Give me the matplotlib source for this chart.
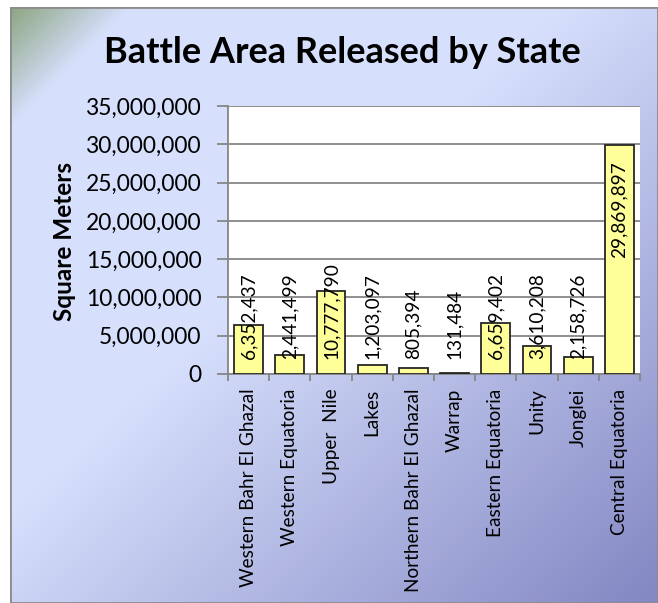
import numpy as np
import matplotlib
matplotlib.use("Agg")
import matplotlib.pyplot as plt
from matplotlib.patches import Rectangle
from matplotlib.ticker import FuncFormatter, MultipleLocator

states = ["Western Bahr El Ghazal", "Western Equatoria", "Upper  Nile", "Lakes",
          "Northern Bahr El Ghazal", "Warrap", "Eastern Equatoria", "Unity",
          "Jonglei", "Central Equatoria"]
areas = [6352437, 2441499, 10777790, 1203097, 805394, 131484,
         6659402, 3610208, 2158726, 29869897]
title = "Battle Area Released by State"
ylabel = "Square Meters"

W, H = 658, 603
fig = plt.figure(figsize=(W / 100, H / 100), dpi=100)
plt.rcParams['font.family'] = ['Lato', 'DejaVu Sans']

# background gradient panel
bg = fig.add_axes([10 / W, 0, (W - 10) / W, 1 - 7 / H], zorder=-5)
bw, bh = W - 10, H - 7
xx, yy = np.meshgrid(np.arange(bw), np.arange(bh))
t = np.clip((xx / bw + yy / bh - 0.85) / 1.15, 0, 1)[..., None]
light = np.array([214, 223, 252]) / 255
dark = np.array([130, 134, 194]) / 255
img = light * (1 - t) + dark * t
g = np.clip(1 - (xx + yy) / 120, 0, 1)[..., None]
green = np.array([140, 165, 128]) / 255
img = img * (1 - g) + green * g
bg.imshow(img, aspect="auto", extent=[0, bw, bh, 0])
bg.add_patch(Rectangle((0, 0), bw, bh, fill=False, edgecolor="#8c8c8c", lw=2))
bg.set_xlim(0, bw)
bg.set_ylim(bh, 0)
bg.axis("off")

ax = fig.add_axes([228 / W, 1 - 374 / H, 412 / W, 268 / H])
ax.set_facecolor("white")
x = np.arange(len(states))
ax.bar(x, areas, width=0.7, color="#ffff99", edgecolor="#262626", linewidth=1.3, zorder=3)
ax.set_xlim(-0.5, len(states) - 0.5)
ax.set_ylim(0, 35000000)
ax.yaxis.set_major_locator(MultipleLocator(5000000))
ax.yaxis.set_major_formatter(FuncFormatter(lambda v, p: f"{int(v):,}"))
ax.grid(axis="y", color="#868686", lw=1.3, zorder=0)
for s in ["top", "right"]:
    ax.spines[s].set_visible(False)
for s in ["left", "bottom"]:
    ax.spines[s].set_color("#868686")
    ax.spines[s].set_linewidth(1.3)

ax.tick_params(axis="y", length=8, width=1.3, color="#868686", pad=11,
               labelsize=16.4)
ax.set_xticks(x)
ax.set_xticklabels(states, rotation=90, fontsize=13.7, va="top")
ax.set_xticks(np.arange(len(states) + 1) - 0.5, minor=True)
ax.tick_params(axis="x", which="major", length=0, pad=10.5)
ax.tick_params(axis="x", which="minor", length=5, width=1.3, color="#868686")

# value labels inside bar ends, pushed up when they do not fit
fig.canvas.draw()
r = fig.canvas.get_renderer()
for xi, v in zip(x, areas):
    tx = ax.text(xi, v - 2070000, f"{v:,}", rotation=90, ha="center", va="top",
                 fontsize=13.7, zorder=4)
    bb = tx.get_window_extent(r).transformed(ax.transData.inverted())
    if bb.y0 < 1900000:
        tx.set_y(1900000)
        tx.set_va("bottom")

fig.text(64 / W, 1 - 242 / H, ylabel, rotation=90, ha="center", va="center",
         fontsize=17.5, fontweight="bold")
fig.text(342 / W, 1 - 63 / H, title, ha="center", va="baseline",
         fontsize=26, fontweight="bold")

fig.savefig("out.png", dpi=100)
